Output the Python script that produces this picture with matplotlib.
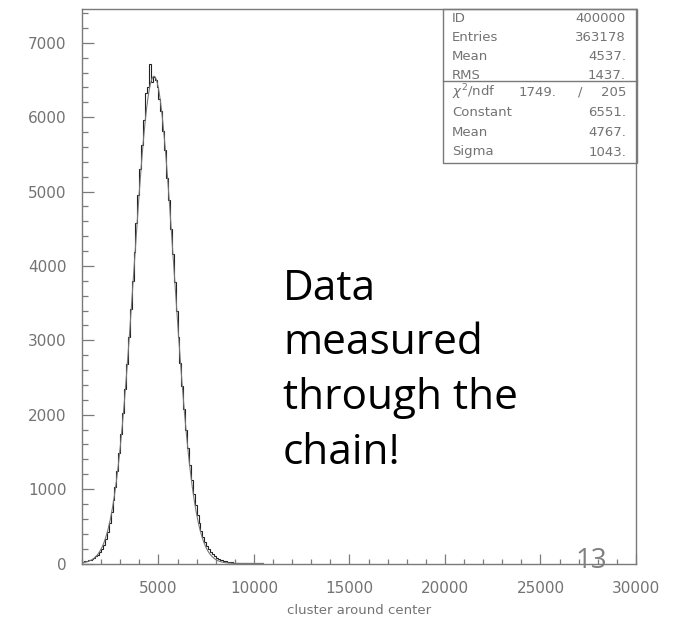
import numpy as np
import matplotlib.pyplot as plt
from matplotlib.patches import Rectangle
from matplotlib.ticker import MultipleLocator

W, H = 682, 617

# histogram contents, 100-wide bins starting at 1000
bin_start = 1000
bin_width = 100
counts = [25, 30, 36, 44, 52, 62, 76, 95, 118, 150,
          195, 250, 330, 430, 550, 690, 850, 1030, 1240, 1480,
          1740, 2030, 2340, 2680, 3040, 3420, 3800, 4190, 4580, 4950,
          5300, 5620, 5960, 6320, 6400, 6710, 6480, 6540, 6500, 6400,
          6240, 6080, 5810, 5560, 5180, 4890, 4500, 4160, 3780, 3400,
          3050, 2700, 2380, 2080, 1800, 1550, 1320, 1120, 940, 790,
          650, 540, 440, 360, 290, 235, 190, 152, 122, 98,
          80, 64, 52, 42, 34, 28, 23, 19, 16, 13,
          11, 9, 8, 7, 6, 5, 4, 4, 3, 3,
          2, 2, 1, 1, 1]

# gaussian fit parameters
fit_const = 6551.
fit_mean = 4767.
fit_sigma = 1043.

stat_names = ["ID", "Entries", "Mean", "RMS"]
stat_values = ["400000", "363178", "4537.", "1437."]
fit_names = ["Constant", "Mean", "Sigma"]
fit_values = ["6551.", "4767.", "1043."]
chi2 = "1749."
ndf = "205"

note_lines = ["Data", "measured", "through the", "chain!"]
page_number = "13"

gray = '#7a7a7a'
txt_gray = '#737373'


def px(x, y):
    return x / W, 1 - y / H


fig = plt.figure(figsize=(W / 100, H / 100), dpi=100)
ax_l, ax_r, ax_t, ax_b = 82, 636, 9, 563.5
ax = fig.add_axes([ax_l / W, 1 - ax_b / H, (ax_r - ax_l) / W, (ax_b - ax_t) / H])

edges = bin_start + bin_width * np.arange(len(counts) + 1)
ax.stairs(counts, edges, color='#222222', lw=0.8)

xf = np.linspace(1000, 10500, 600)
yf = fit_const * np.exp(-0.5 * ((xf - fit_mean) / fit_sigma) ** 2)
ax.plot(xf, yf, color='#777777', lw=0.8)

ax.set_xlim(1000, 30000)
ax.set_ylim(0, 7455)
ax.xaxis.set_major_locator(MultipleLocator(5000))
ax.xaxis.set_minor_locator(MultipleLocator(1000))
ax.yaxis.set_major_locator(MultipleLocator(1000))
ax.yaxis.set_minor_locator(MultipleLocator(200))
ax.tick_params(which='both', direction='in', colors=gray, labelcolor=txt_gray,
               labelsize=11, top=False, right=False)
ax.tick_params(axis='y', which='major', length=8.5, width=0.9, pad=11)
ax.tick_params(axis='y', which='minor', length=4, width=0.9)
ax.tick_params(axis='x', which='major', length=7.5, width=0.9, pad=12.5)
ax.tick_params(axis='x', which='minor', length=3.5, width=0.9)
for s in ax.spines.values():
    s.set_color(gray)
    s.set_linewidth(1.0)

fig.text(*px(359, 610), "cluster around center", ha='center', va='center',
         fontsize=9.5, color=txt_gray)

# stats box
bx0, bx1, by0, by1, ymid = 443, 637, 9, 163, 81
box = Rectangle(px(bx0, by1), (bx1 - bx0) / W, (by1 - by0) / H,
                transform=fig.transFigure, fill=False, ec=gray, lw=1.0)
fig.patches.append(box)
fig.add_artist(plt.Line2D([bx0 / W, bx1 / W], [1 - ymid / H] * 2,
                          transform=fig.transFigure, color=gray, lw=1.0))
kw = dict(fontsize=9.5, color=txt_gray, va='center')
for i, (n, v) in enumerate(zip(stat_names, stat_values)):
    y = 18 + i * 19.2
    fig.text(*px(452, y), n, ha='left', **kw)
    fig.text(*px(626, y), v, ha='right', **kw)
fig.text(*px(452, 92), r"$\chi^2$/ndf", ha='left', **kw)
fig.text(*px(556, 92), chi2, ha='right', **kw)
fig.text(*px(580, 92), "/", ha='center', **kw)
fig.text(*px(626, 92), ndf, ha='right', **kw)
for i, (n, v) in enumerate(zip(fit_names, fit_values)):
    y = 112 + i * 20
    fig.text(*px(452, y), n, ha='left', **kw)
    fig.text(*px(626, y), v, ha='right', **kw)

# slide annotations
for i, line in enumerate(note_lines):
    fig.text(*px(283, 300 + i * 54.5), line, ha='left', va='baseline',
             fontsize=30.5, family='Open Sans', color='black')
fig.text(*px(591, 568), page_number, ha='center', va='baseline',
         fontsize=20, family='Open Sans', color='#808080')

fig.savefig('out.png', dpi=100)
